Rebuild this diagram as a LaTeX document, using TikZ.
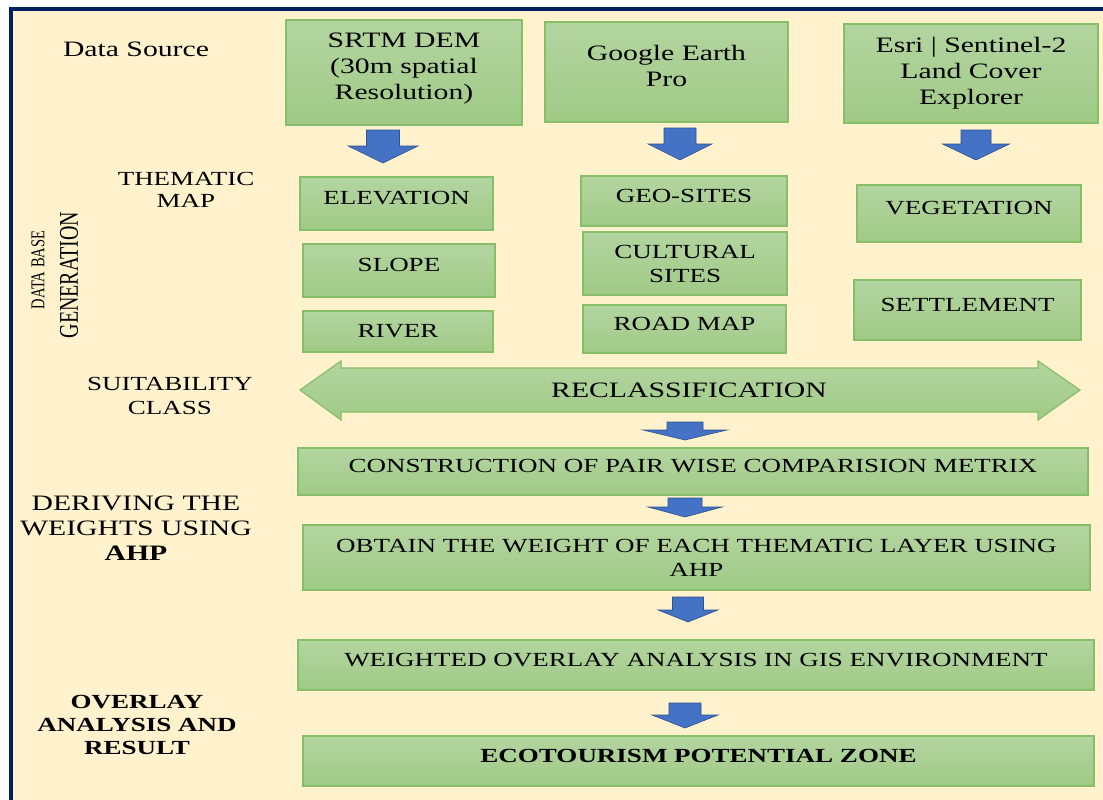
\documentclass[tikz,border=0pt]{standalone}
\usepackage{fontspec}
\setmainfont{Liberation Serif}[FakeStretch=1.35]
\newfontfamily\rotfont{Liberation Serif}

\definecolor{cream}{RGB}{255,242,204}
\definecolor{navy}{RGB}{0,32,96}
\definecolor{gtop}{RGB}{179,213,160}
\definecolor{gbot}{RGB}{160,202,134}
\definecolor{gline}{RGB}{135,190,105}
\definecolor{barrow}{RGB}{68,114,196}
\definecolor{bline}{RGB}{47,82,143}

\begin{document}
\begin{tikzpicture}[x=1pt, y=-1pt,
  gbox/.style={rectangle, draw=gline, line width=1.2pt, top color=gtop, bottom color=gbot, align=center, inner sep=0pt, font=\fontsize{20}{24}\selectfont},
  srcbox/.style={gbox, font=\fontsize{22}{26}\selectfont},
  tup/.style={text height=14pt, text depth=12pt},
  side/.style={align=center, inner sep=0pt, font=\fontsize{20}{23}\selectfont},
  bluearrow/.style={fill=barrow, draw=bline, line width=0.6pt},
  pics/downarrow/.style n args={4}{code={
    \path[bluearrow] (-#1,0) -- (#1,0) -- (#1,#3) -- (#2,#3) -- (0,#4) -- (-#2,#3) -- (-#1,#3) -- cycle;}}]
  \useasboundingbox (0,0) rectangle (1103,800);
  \fill[white] (0,0) rectangle (1103,800);
  \fill[cream] (11,9) rectangle (1103,800);
  \draw[navy, line width=3.5pt] (11,800) -- (11,9) -- (1103,9);

  % side labels
  \node[side, font=\fontsize{22}{25}\selectfont] (dsrc) at (136,49) {Data Source};
  \node[side, font=\fontsize{20}{22}\selectfont] (thm) at (186,190) {THEMATIC\\MAP};
  \node[rotate=90, inner sep=0pt] (dbase) at (38,270) {\rotfont\fontsize{14.5}{16}\selectfont\scalebox{1}[1.35]{DATA BASE}};
  \node[rotate=90, inner sep=0pt] (gen) at (69,275) {\rotfont\fontsize{20}{22}\selectfont\scalebox{1}[1.35]{GENERATION}};
  \node[side, font=\fontsize{20}{24}\selectfont] (suit) at (170,396) {SUITABILITY\\CLASS};
  \node[side, font=\fontsize{22}{25}\selectfont] (deriv) at (136,528) {DERIVING THE\\WEIGHTS USING\\\textbf{AHP}};
  \node[side, font=\bfseries\fontsize{20}{23}\selectfont] (ovl) at (137,725) {OVERLAY\\ANALYSIS AND\\RESULT};

  % data sources
  \node[srcbox, minimum width=236pt, minimum height=105pt] (srtm) at (404,72.5) {SRTM DEM\\(30m spatial\\Resolution)\\[-14pt]\mbox{}};
  \node[srcbox, minimum width=243pt, minimum height=100pt] (gep) at (666.5,72) {Google Earth\\Pro\\[-14pt]\mbox{}};
  \node[srcbox, minimum width=254pt, minimum height=99pt] (esri) at (971,73.5) {Esri | Sentinel-2\\Land Cover\\Explorer};

  \pic at (383,130) {downarrow={16.5}{35}{16}{33}};
  \pic at (680,128) {downarrow={16}{32}{16}{32}};
  \pic at (976,130) {downarrow={15}{33.5}{14}{30}};

  % thematic maps
  \node[gbox, tup, minimum width=193pt, minimum height=53pt] (elev) at (396.5,203.5) {ELEVATION};
  \node[gbox, tup, minimum width=192pt, minimum height=53pt] (slope) at (399,270.5) {SLOPE};
  \node[gbox, minimum width=190pt, minimum height=41pt] (river) at (398,331.5) {RIVER};
  \node[gbox, tup, minimum width=206pt, minimum height=50pt] (geo) at (684,201) {GEO-SITES};
  \node[gbox, minimum width=204pt, minimum height=63pt] (cult) at (685,263.5) {CULTURAL\\SITES};
  \node[gbox, tup, minimum width=203pt, minimum height=48pt] (road) at (684.5,329) {ROAD MAP};
  \node[gbox, tup, minimum width=224pt, minimum height=57pt] (veg) at (969,213.5) {VEGETATION};
  \node[gbox, tup, minimum width=227pt, minimum height=60pt] (settl) at (967.5,310) {SETTLEMENT};

  % reclassification
  \shade[top color=gtop, bottom color=gbot, draw=gline, line width=1.2pt]
    (300,390) -- (341,361) -- (341,368) -- (1038,368) -- (1038,361) -- (1080,390)
    -- (1038,420) -- (1038,412) -- (341,412) -- (341,420) -- cycle;
  \node[font=\fontsize{22}{26}\selectfont] (recl) at (689,390) {RECLASSIFICATION};
  \pic at (685,422) {downarrow={18}{42}{8}{18}};

  % AHP and overlay
  \node[gbox, tup, minimum width=790pt, minimum height=47pt] (pair) at (693,471.5) {CONSTRUCTION OF PAIR WISE COMPARISION METRIX};
  \pic at (685,498) {downarrow={17}{37}{9}{19}};
  \node[gbox, minimum width=787pt, minimum height=65pt] (wgt) at (696.5,557.5) {OBTAIN THE WEIGHT OF EACH THEMATIC LAYER USING\\AHP};
  \pic at (688,597) {downarrow={15.5}{30}{13}{25}};
  \node[gbox, tup, minimum width=796pt, minimum height=50pt] (wov) at (696,665) {WEIGHTED OVERLAY ANALYSIS IN GIS ENVIRONMENT};
  \pic at (685,703) {downarrow={16}{33}{12}{25}};
  \node[gbox, tup, minimum width=791pt, minimum height=50pt] (eco) at (698.5,761) {\textbf{ECOTOURISM POTENTIAL ZONE}};
\end{tikzpicture}
\end{document}
